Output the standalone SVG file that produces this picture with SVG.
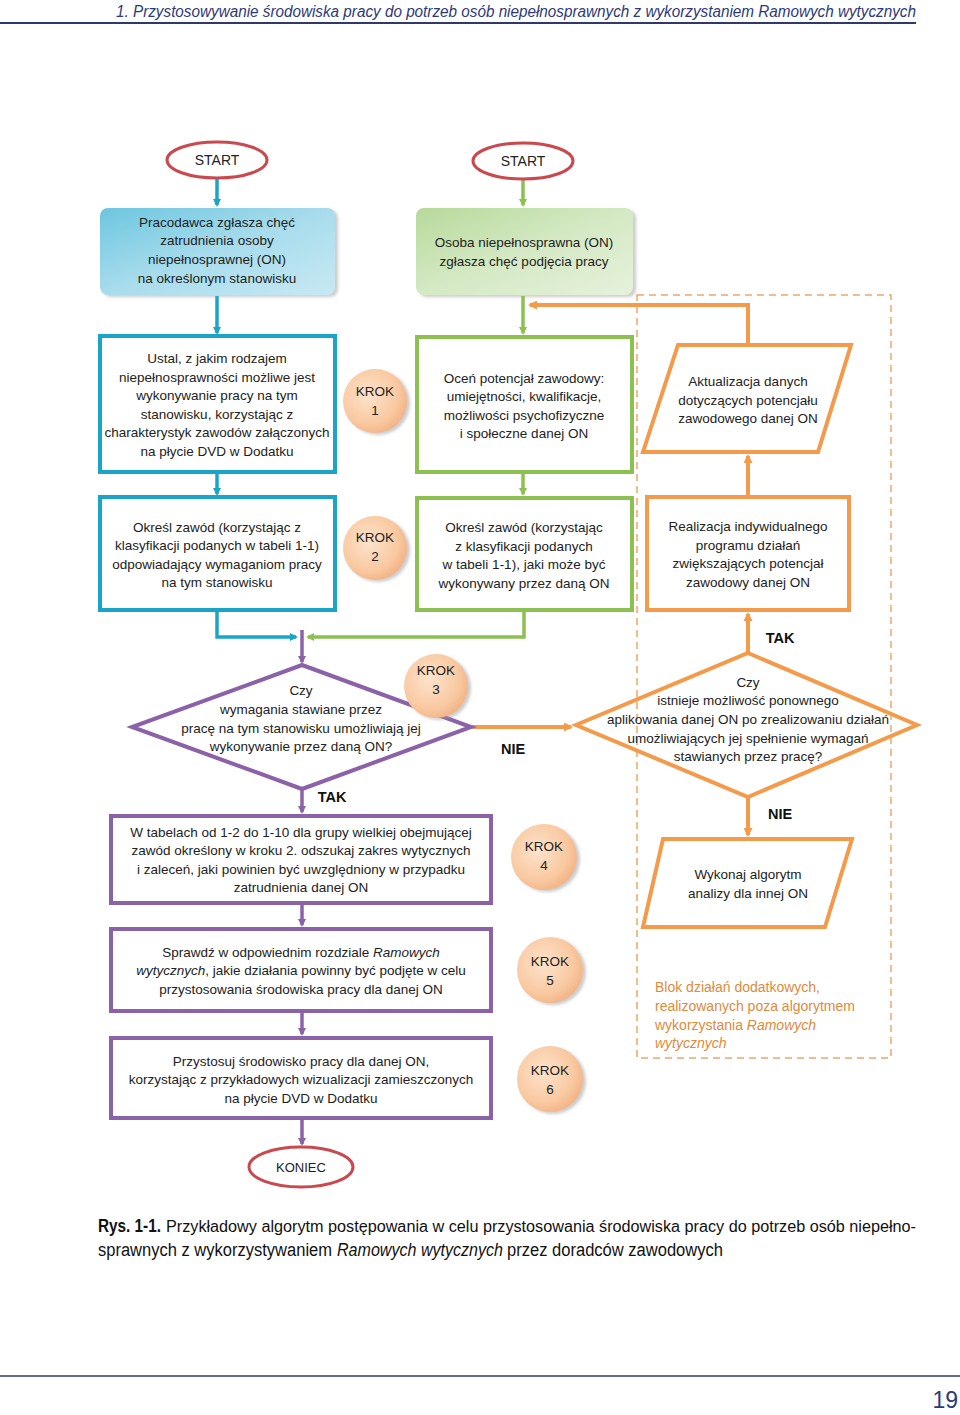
<svg xmlns="http://www.w3.org/2000/svg" width="960" height="1415" viewBox="0 0 960 1415">
<style>
text{font-family:"Liberation Sans",Arial,sans-serif;font-size:13.5px;fill:#222;text-anchor:middle}
.lbl{font-weight:bold;font-size:14.5px;fill:#111}
.it{font-style:italic}
.cap{font-family:"Liberation Sans",Arial,sans-serif;font-size:18px;text-anchor:start;fill:#111}
.blok{fill:#e08a3c;text-anchor:start;font-size:14px}
.blue{fill:none;stroke:#1aa5c8;stroke-width:4}
.green{fill:none;stroke:#8cc152;stroke-width:4}
.purple{fill:none;stroke:#8b62a8;stroke-width:4}
.orange{fill:none;stroke:#f39a4b;stroke-width:4}
.term{fill:#fff;stroke:#c9494f;stroke-width:3}
.krok{fill:url(#gk);filter:url(#sh)}
.cb{stroke:#1aa5c8;stroke-width:3.5;fill:none}
.cg{stroke:#8cc152;stroke-width:3.5;fill:none}
.cp{stroke:#8b62a8;stroke-width:3.5;fill:none}
.co{stroke:#f39a4b;stroke-width:4;fill:none}
</style>
<defs>
<radialGradient id="gk" cx="0.4" cy="0.4" r="0.65">
<stop offset="0" stop-color="#fde3cc"/><stop offset="0.7" stop-color="#f9c9a1"/><stop offset="1" stop-color="#f2b284"/>
</radialGradient>
<linearGradient id="gb" x1="0" y1="0" x2="1" y2="1">
<stop offset="0" stop-color="#6cc6df"/><stop offset="0.5" stop-color="#a8dcec"/><stop offset="1" stop-color="#c7e9f3"/>
</linearGradient>
<linearGradient id="gg" x1="0" y1="0" x2="1" y2="1">
<stop offset="0" stop-color="#b7d99a"/><stop offset="0.5" stop-color="#d4e9c4"/><stop offset="1" stop-color="#e6f1dc"/>
</linearGradient>
<filter id="sh" x="-20%" y="-20%" width="150%" height="150%">
<feDropShadow dx="3" dy="2" stdDeviation="1.5" flood-color="#999" flood-opacity="0.5"/>
</filter>
<marker id="ab" markerWidth="8" markerHeight="8" refX="6" refY="4" orient="auto" markerUnits="userSpaceOnUse" viewBox="0 0 8 8"><path d="M0,0 L8,4 L0,8 z" fill="#1aa5c8"/></marker>
<marker id="ag" markerWidth="8" markerHeight="8" refX="6" refY="4" orient="auto" markerUnits="userSpaceOnUse" viewBox="0 0 8 8"><path d="M0,0 L8,4 L0,8 z" fill="#8cc152"/></marker>
<marker id="ap" markerWidth="8" markerHeight="8" refX="6" refY="4" orient="auto" markerUnits="userSpaceOnUse" viewBox="0 0 8 8"><path d="M0,0 L8,4 L0,8 z" fill="#8b62a8"/></marker>
<marker id="ao" markerWidth="9" markerHeight="9" refX="7" refY="4.5" orient="auto" markerUnits="userSpaceOnUse" viewBox="0 0 9 9"><path d="M0,0 L9,4.5 L0,9 z" fill="#f39a4b"/></marker>
</defs>

<rect width="960" height="1415" fill="#fff"/>

<!-- header -->
<g id="header">
<text x="116" y="17" style="font-size:16px;font-style:italic;text-anchor:start;fill:#2d3a78" textLength="800" lengthAdjust="spacingAndGlyphs">1. Przystosowywanie środowiska pracy do potrzeb osób niepełnosprawnych z wykorzystaniem Ramowych wytycznych</text>
<line x1="0" y1="23" x2="916" y2="23" stroke="#2d3a6b" stroke-width="2"/>
</g>

<!-- dashed block -->
<g id="blok">
<rect x="637" y="295" width="254" height="763" fill="none" stroke="#f0a66a" stroke-width="1.5" stroke-dasharray="7,5"/>
<text class="blok" x="655" y="992">Blok działań dodatkowych,</text>
<text class="blok" x="655" y="1011">realizowanych poza algorytmem</text>
<text class="blok" x="655" y="1030">wykorzystania  <tspan class="it">Ramowych</tspan></text>
<text class="blok it" x="655" y="1048">wytycznych</text>
</g>

<!-- connectors -->
<g id="connectors">
<line class="cb" x1="217" y1="178" x2="217" y2="205" marker-end="url(#ab)"/>
<line class="cg" x1="523" y1="179" x2="523" y2="205" marker-end="url(#ag)"/>
<line class="cb" x1="217" y1="296" x2="217" y2="333" marker-end="url(#ab)"/>
<line class="cg" x1="523" y1="296" x2="523" y2="333" marker-end="url(#ag)"/>
<polyline class="co" points="748,345 748,305 530,305" marker-end="url(#ao)"/>
<line class="cb" x1="217" y1="473" x2="217" y2="494" marker-end="url(#ab)"/>
<line class="cg" x1="523" y1="473" x2="523" y2="494" marker-end="url(#ag)"/>
<line class="co" x1="748" y1="497" x2="748" y2="456" marker-end="url(#ao)"/>
<polyline class="cb" points="217,610 217,637 296,637" marker-end="url(#ab)"/>
<polyline class="cg" points="524,610 524,637 308,637" marker-end="url(#ag)"/>
<line class="cp" x1="302" y1="630" x2="302" y2="662" marker-end="url(#ap)"/>
<line class="co" x1="748" y1="653" x2="748" y2="614" marker-end="url(#ao)"/>
<line class="co" x1="472" y1="727" x2="571" y2="727" marker-end="url(#ao)"/>
<line class="cp" x1="302" y1="788" x2="302" y2="812" marker-end="url(#ap)"/>
<line class="co" x1="748" y1="797" x2="748" y2="835" marker-end="url(#ao)"/>
<line class="cp" x1="302" y1="904" x2="302" y2="925" marker-end="url(#ap)"/>
<line class="cp" x1="302" y1="1013" x2="302" y2="1034" marker-end="url(#ap)"/>
<line class="cp" x1="302" y1="1119" x2="302" y2="1144" marker-end="url(#ap)"/>
<text class="lbl" x="780" y="643">TAK</text>
<text class="lbl" x="513" y="754">NIE</text>
<text class="lbl" x="332" y="802">TAK</text>
<text class="lbl" x="780" y="819">NIE</text>
</g>

<!-- nodes -->
<g id="start1">
<ellipse class="term" cx="217" cy="160" rx="50" ry="18"/>
<text x="217" y="165" style="font-size:14px">START</text>
</g>
<g id="start2">
<ellipse class="term" cx="523" cy="161" rx="50" ry="18"/>
<text x="523" y="166" style="font-size:14px">START</text>
</g>
<g id="pracodawca">
<rect x="100" y="208" width="235" height="87" rx="8" fill="url(#gb)" filter="url(#sh)"/>
<text x="217" y="227">Pracodawca zgłasza chęć</text>
<text x="217" y="245">zatrudnienia osoby</text>
<text x="217" y="264">niepełnosprawnej (ON)</text>
<text x="217" y="283">na określonym stanowisku</text>
</g>
<g id="osoba">
<rect x="416" y="208" width="217" height="87" rx="8" fill="url(#gg)" filter="url(#sh)"/>
<text x="524" y="247">Osoba niepełnosprawna (ON)</text>
<text x="524" y="266">zgłasza chęć podjęcia pracy</text>
</g>
<g id="ustal">
<rect class="blue" x="100" y="336" width="235" height="136"/>
<text x="217" y="363">Ustal, z jakim rodzajem</text>
<text x="217" y="382">niepełnosprawności możliwe jest</text>
<text x="217" y="400">wykonywanie pracy na tym</text>
<text x="217" y="419">stanowisku, korzystając z</text>
<text x="217" y="437">charakterystyk zawodów załączonych</text>
<text x="217" y="456">na płycie DVD w Dodatku</text>
</g>
<g id="krok1">
<circle class="krok" cx="375" cy="401" r="32"/>
<text x="375" y="396">KROK</text>
<text x="375" y="415">1</text>
</g>
<g id="ocen">
<rect class="green" x="417" y="337" width="215" height="135"/>
<text x="524" y="383">Oceń potencjał zawodowy:</text>
<text x="524" y="401">umiejętności, kwalifikacje,</text>
<text x="524" y="420">możliwości psychofizyczne</text>
<text x="524" y="438">i społeczne danej ON</text>
</g>
<g id="aktualizacja">
<polygon class="orange" points="678,345 851,345 818,452 643,452"/>
<text x="748" y="386">Aktualizacja danych</text>
<text x="748" y="405">dotyczących potencjału</text>
<text x="748" y="423">zawodowego danej ON</text>
</g>
<g id="okresl1">
<rect class="blue" x="100" y="497" width="235" height="113"/>
<text x="217" y="532">Określ zawód (korzystając z</text>
<text x="217" y="550">klasyfikacji podanych w tabeli 1-1)</text>
<text x="217" y="569">odpowiadający wymaganiom pracy</text>
<text x="217" y="587">na tym stanowisku</text>
</g>
<g id="krok2">
<circle class="krok" cx="375" cy="548" r="32"/>
<text x="375" y="542">KROK</text>
<text x="375" y="561">2</text>
</g>
<g id="okresl2">
<rect class="green" x="417" y="498" width="215" height="112"/>
<text x="524" y="532">Określ zawód (korzystając</text>
<text x="524" y="551">z klasyfikacji podanych</text>
<text x="524" y="569">w tabeli 1-1), jaki może być</text>
<text x="524" y="588">wykonywany przez daną ON</text>
</g>
<g id="realizacja">
<rect class="orange" x="647" y="497" width="202" height="113"/>
<text x="748" y="531">Realizacja indywidualnego</text>
<text x="748" y="550">programu działań</text>
<text x="748" y="568">zwiększających potencjał</text>
<text x="748" y="587">zawodowy danej ON</text>
</g>
<g id="decyzja1">
<polygon class="purple" points="302,665 471,727 302,789 132,727" fill="#fff"/>
<text x="301" y="695">Czy</text>
<text x="301" y="714">wymagania stawiane przez</text>
<text x="301" y="733">pracę na tym stanowisku umożliwiają jej</text>
<text x="301" y="751">wykonywanie przez daną ON?</text>
</g>
<g id="krok3">
<circle class="krok" cx="436" cy="686" r="32"/>
<text x="436" y="675">KROK</text>
<text x="436" y="694">3</text>
</g>
<g id="decyzja2">
<polygon class="orange" points="748,653 917,725 748,797 576,725" fill="#fff"/>
<text x="748" y="687">Czy</text>
<text x="748" y="705">istnieje możliwość ponownego</text>
<text x="748" y="724">aplikowania danej ON po zrealizowaniu działań</text>
<text x="748" y="743">umożliwiających jej spełnienie wymagań</text>
<text x="748" y="761">stawianych przez pracę?</text>
</g>
<g id="tabele">
<rect class="purple" x="111" y="816" width="380" height="87"/>
<text x="301" y="837">W tabelach od 1-2 do 1-10 dla grupy wielkiej obejmującej</text>
<text x="301" y="855">zawód określony w kroku 2. odszukaj zakres wytycznych</text>
<text x="301" y="874">i zaleceń, jaki powinien być uwzględniony w przypadku</text>
<text x="301" y="892">zatrudnienia danej ON</text>
</g>
<g id="krok4">
<circle class="krok" cx="544" cy="857" r="33"/>
<text x="544" y="851">KROK</text>
<text x="544" y="870">4</text>
</g>
<g id="wykonaj">
<polygon class="orange" points="663,839 852,839 825,927 643,927"/>
<text x="748" y="879">Wykonaj algorytm</text>
<text x="748" y="898">analizy dla innej ON</text>
</g>
<g id="sprawdz">
<rect class="purple" x="111" y="929" width="380" height="82"/>
<text x="301" y="957">Sprawdź w odpowiednim rozdziale <tspan class="it">Ramowych</tspan></text>
<text x="301" y="975"><tspan class="it">wytycznych</tspan>, jakie działania powinny być podjęte w celu</text>
<text x="301" y="994">przystosowania środowiska pracy dla danej ON</text>
</g>
<g id="krok5">
<circle class="krok" cx="550" cy="970" r="33"/>
<text x="550" y="966">KROK</text>
<text x="550" y="985">5</text>
</g>
<g id="przystosuj">
<rect class="purple" x="111" y="1038" width="380" height="80"/>
<text x="301" y="1066">Przystosuj środowisko pracy dla danej ON,</text>
<text x="301" y="1084">korzystając z przykładowych wizualizacji zamieszczonych</text>
<text x="301" y="1103">na płycie DVD w Dodatku</text>
</g>
<g id="krok6">
<circle class="krok" cx="550" cy="1079" r="33"/>
<text x="550" y="1075">KROK</text>
<text x="550" y="1094">6</text>
</g>
<g id="koniec">
<ellipse class="term" cx="301" cy="1167" rx="52" ry="20"/>
<text x="301" y="1172" style="font-size:13px">KONIEC</text>
</g>

<!-- caption -->
<g id="caption">
<text class="cap" x="98" y="1232" font-weight="bold" textLength="63" lengthAdjust="spacingAndGlyphs">Rys. 1-1.</text>
<text class="cap" x="166" y="1232" style="font-size:16px" textLength="750" lengthAdjust="spacingAndGlyphs">Przykładowy algorytm postępowania w celu przystosowania środowiska pracy do potrzeb osób niepełno-</text>
<text class="cap" x="98" y="1256" textLength="234" lengthAdjust="spacingAndGlyphs">sprawnych z wykorzystywaniem</text>
<text class="cap it" x="337" y="1256" textLength="166" lengthAdjust="spacingAndGlyphs">Ramowych wytycznych</text>
<text class="cap" x="507" y="1256" textLength="216" lengthAdjust="spacingAndGlyphs">przez doradców zawodowych</text>
</g>
<g id="footer">
<line x1="0" y1="1376" x2="960" y2="1376" stroke="#2d3a6b" stroke-width="1.5"/>
<text x="958" y="1408" style="font-size:23px;text-anchor:end;fill:#2d3a78">19</text>
</g>
</svg>
